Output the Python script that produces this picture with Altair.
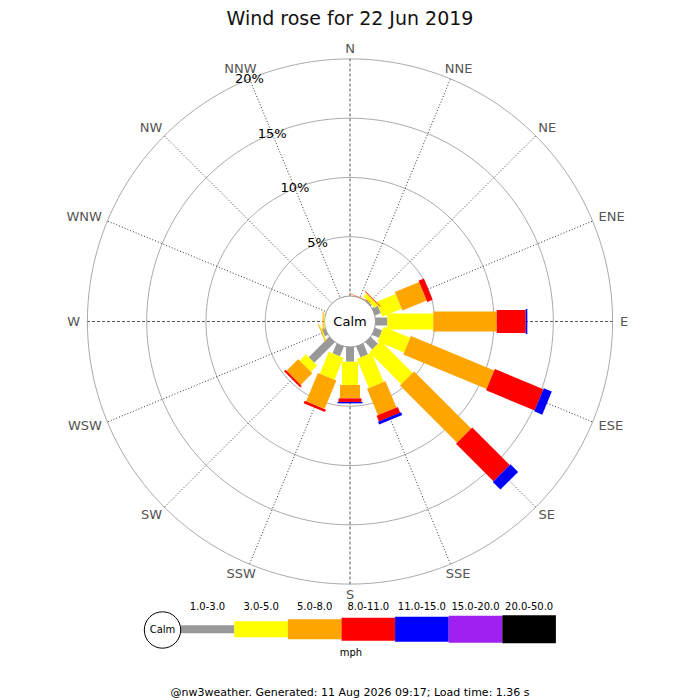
import altair as alt
import pandas as pd
import numpy as np

# ---------------- data ----------------
title_text = "Wind rose for 22 Jun 2019"
footer_text = "@nw3weather. Generated: 11 Aug 2026 09:17; Load time: 1.36 s"
unit_text = "mph"
calm_text = "Calm"

directions = ["N", "NNE", "NE", "ENE", "E", "ESE", "SE", "SSE",
              "S", "SSW", "SW", "WSW", "W", "WNW", "NW", "NNW"]
speed_bins = ["1.0-3.0", "3.0-5.0", "5.0-8.0", "8.0-11.0",
              "11.0-15.0", "15.0-20.0", "20.0-50.0"]
bin_colors = ["#999999", "#ffff00", "#ffa500", "#ff0000",
              "#0000ff", "#a020f0", "#000000"]
bin_widths = [8, 16, 20, 23, 25, 27, 28]

# percentage of the day per direction (N..NNW) for each speed bin
pct_1_3 = [0, 0, 0.15, 0.54, 1.00, 0.65, 0.85, 1.00, 1.25, 0.90, 2.45, 0.30, 0, 0, 0, 0]
pct_3_5 = [0, 0, 0.35, 1.76, 3.88, 2.42, 3.81, 2.65, 1.96, 2.00, 0.75, 0.08, 0.08, 0, 0, 0]
pct_5_8 = [0, 0.03, 0.05, 2.22, 5.35, 7.61, 6.81, 2.41, 1.13, 2.60, 1.38, 0.07, 0.08, 0, 0, 0]
pct_8_11 = [0, 0.03, 0.05, 0.48, 2.44, 4.43, 4.47, 0.52, 0.30, 0.22, 0.17, 0, 0, 0, 0, 0]
pct_11_15 = [0, 0, 0, 0, 0.14, 0.73, 0.91, 0.24, 0.12, 0, 0, 0, 0, 0, 0, 0]
pct_15_20 = [0, 0, 0, 0, 0, 0, 0, 0, 0, 0, 0, 0, 0, 0, 0, 0]
pct_20_50 = [0, 0, 0, 0, 0, 0, 0, 0, 0, 0, 0, 0, 0, 0, 0, 0]
series = [pct_1_3, pct_3_5, pct_5_8, pct_8_11, pct_11_15, pct_15_20, pct_20_50]

ring_levels = [5, 10, 15, 20]
ring_labels = ["5%", "10%", "15%", "20%"]

# ---------------- layout ----------------
W, H = 684, 692
CX, CY = 342, 313.5          # centre of the rose inside the view (px)
PX = 11.86                   # pixels per percentage point
R0 = 25.4 / PX               # radius of calm circle in data units
xs = alt.Scale(domain=[-CX / PX, (W - CX) / PX], nice=False, zero=False)
ys = alt.Scale(domain=[-(H - CY) / PX, CY / PX], nice=False, zero=False)
FONT = "DejaVu Sans"


def page_to_data(px, py):
    return (px - 8 - CX) / PX, (CY - (py - 8)) / PX


ang = np.deg2rad(np.arange(16) * 22.5)

# bars
rows = []
for i, d in enumerate(directions):
    cum = 0.0
    for j, s in enumerate(series):
        v = s[i]
        if v > 0:
            r1, r2 = R0 + cum, R0 + cum + v
            rows.append(dict(dir=d, bin=speed_bins[j], o=j,
                             x=r1 * np.sin(ang[i]), y=r1 * np.cos(ang[i]),
                             x2=r2 * np.sin(ang[i]), y2=r2 * np.cos(ang[i]),
                             color=bin_colors[j], w=bin_widths[j]))
            cum += v
bars_df = pd.DataFrame(rows)

# rings
ring_rows = []
t = np.deg2rad(np.arange(0, 361, 2))
for lev in ring_levels:
    r = R0 + lev
    for k, a in enumerate(t):
        ring_rows.append(dict(ring=lev, k=k, x=r * np.sin(a), y=r * np.cos(a)))
rings_df = pd.DataFrame(ring_rows)

# spokes
R_out = R0 + ring_levels[-1]
spokes_df = pd.DataFrame(dict(dir=directions,
                              main=[i % 4 == 0 for i in range(16)],
                              x=0.0, y=0.0,
                              x2=R_out * np.sin(ang), y2=R_out * np.cos(ang)))

# direction labels: anchored on a box around the rose
cw = {"N": 0.748, "E": 0.632, "S": 0.635, "W": 0.989}
lab_rows = []
r_lab = 270 / PX
for i, d in enumerate(directions):
    wpx = sum(cw[c] for c in d) * 13
    hpx = 6
    x = r_lab * np.sin(ang[i]) + (wpx / 2) * np.sin(ang[i]) / PX
    y = r_lab * np.cos(ang[i]) + (hpx / 2) * np.cos(ang[i]) / PX
    lab_rows.append(dict(label=d, x=x, y=y))
labels_df = pd.DataFrame(lab_rows)

# percentage labels along NNW
a_nnw = ang[15]
pct_df = pd.DataFrame(dict(label=ring_labels,
                           x=[(R0 + l) * np.sin(a_nnw) for l in ring_levels],
                           y=[(R0 + l) * np.cos(a_nnw) for l in ring_levels]))

# legend
seg0, segw, leg_y = 180.7, 53.6, 629.2
leg_rows = []
for j, b in enumerate(speed_bins):
    x1, y1 = page_to_data(seg0 + j * segw, leg_y)
    x2, _ = page_to_data(seg0 + (j + 1) * segw, leg_y)
    lx, ly = page_to_data(seg0 + (j + 0.5) * segw, 606.7)
    leg_rows.append(dict(bin=b, x=x1, y=y1, x2=x2, color=bin_colors[j],
                         w=bin_widths[j], lx=lx, ly=ly))
leg_df = pd.DataFrame(leg_rows)
cx_leg, cy_leg = page_to_data(162.5, 630)
calm_leg_df = pd.DataFrame(dict(x=[cx_leg], y=[cy_leg], label=[calm_text]))
center_df = pd.DataFrame(dict(x=[0.0], y=[0.0], label=[calm_text]))
mx, my = page_to_data(351, 653.3)
unit_df = pd.DataFrame(dict(x=[mx], y=[my], label=[unit_text]))

X = lambda f="x": alt.X(f + ":Q", scale=xs, axis=None)
Y = lambda f="y": alt.Y(f + ":Q", scale=ys, axis=None)

# ---------------- layers ----------------
rings = alt.Chart(rings_df).mark_line(color="#aaaaaa", strokeWidth=1).encode(
    x=X(), y=Y(), detail="ring:N", order="k:Q")

spokes_main = alt.Chart(spokes_df).transform_filter("datum.main").mark_rule(
    color="#555555", strokeWidth=1, strokeDash=[3, 2]).encode(
    x=X(), y=Y(), x2="x2:Q", y2="y2:Q")
spokes_minor = alt.Chart(spokes_df).transform_filter("!datum.main").mark_rule(
    color="#333333", strokeWidth=1, strokeDash=[1, 2]).encode(
    x=X(), y=Y(), x2="x2:Q", y2="y2:Q")

calm_circle = alt.Chart(center_df).mark_point(
    shape="circle", size=51 ** 2, fill="white", stroke="#999999",
    strokeWidth=1, opacity=1, fillOpacity=1).encode(x=X(), y=Y())

bars = alt.Chart(bars_df).mark_rule(strokeCap="butt").encode(
    x=X(), y=Y(), x2="x2:Q", y2="y2:Q",
    color=alt.Color("color:N", scale=None),
    strokeWidth=alt.StrokeWidth("w:Q", scale=None),
    order="o:Q")

dir_labels = alt.Chart(labels_df).mark_text(
    font=FONT, fontSize=13, color="#555555", align="center",
    baseline="middle").encode(x=X(), y=Y(), text="label:N")

pct_labels = alt.Chart(pct_df).mark_text(
    font=FONT, fontSize=13, color="#000000", align="center",
    baseline="middle").encode(x=X(), y=Y(), text="label:N")

calm_label = alt.Chart(center_df).mark_text(
    font=FONT, fontSize=13, color="#000000", baseline="middle").encode(
    x=X(), y=Y(), text="label:N")

leg_bars = alt.Chart(leg_df).mark_rule(strokeCap="butt").encode(
    x=X(), y=Y(), x2="x2:Q",
    color=alt.Color("color:N", scale=None),
    strokeWidth=alt.StrokeWidth("w:Q", scale=None))
leg_text = alt.Chart(leg_df).mark_text(
    font=FONT, fontSize=10, color="#000000", baseline="middle").encode(
    x=X("lx"), y=Y("ly"), text="bin:N")
leg_calm = alt.Chart(calm_leg_df).mark_point(
    shape="circle", size=36.4 ** 2, fill="white", stroke="#000000",
    strokeWidth=1, opacity=1, fillOpacity=1).encode(x=X(), y=Y())
leg_calm_text = alt.Chart(calm_leg_df).mark_text(
    font=FONT, fontSize=10, color="#000000", baseline="middle").encode(
    x=X(), y=Y(), text="label:N")
unit_label = alt.Chart(unit_df).mark_text(
    font=FONT, fontSize=10, color="#000000", baseline="middle").encode(
    x=X(), y=Y(), text="label:N")

title = alt.Chart(center_df).mark_text(
    font=FONT, fontSize=19, color="#111111", baseline="middle").encode(
    x=alt.value(CX), y=alt.value(11), text=alt.value(title_text))
footer = alt.Chart(center_df).mark_text(
    font=FONT, fontSize=11, color="#000000", baseline="middle").encode(
    x=alt.value(CX), y=alt.value(685), text=alt.value(footer_text))

chart = alt.layer(
    rings, spokes_main, spokes_minor, calm_circle, bars,
    dir_labels, pct_labels, calm_label,
    leg_bars, leg_calm, leg_text, leg_calm_text, unit_label,
    title, footer
).properties(
    width=W, height=H, padding=0,
    autosize=alt.AutoSizeParams(type="none"),
    background="white"
).configure_view(stroke=None)

chart.save("out.html", embed_options={"renderer": "svg", "actions": False})
